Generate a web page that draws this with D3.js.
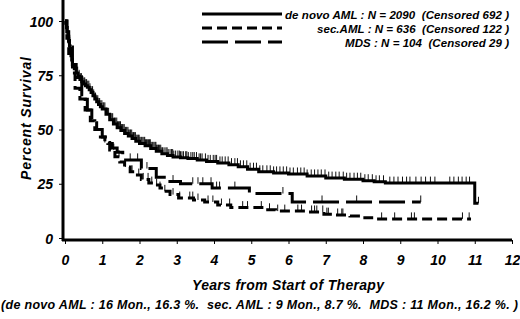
<!DOCTYPE html>
<html>
<head>
<meta charset="utf-8">
<script src="https://cdn.jsdelivr.net/npm/d3@7"></script>
<style>
  body { margin: 0; background: #fff; }
  svg text { font-family: "Liberation Sans", Arial, sans-serif; font-weight: bold; font-style: italic; fill: #000; white-space: pre; }
</style>
</head>
<body>
<svg class="km" width="520" height="319"></svg>
<script>

// survival curves (years, percent)
let deNovoTime = [0, 0.02, 0.04, 0.06, 0.08, 0.1, 0.12, 0.14, 0.16, 0.18, 0.2, 0.25, 0.3, 0.35, 0.4, 0.45, 0.5, 0.55, 0.6, 0.65, 0.7, 0.75, 0.8, 0.85, 0.9, 0.95, 1.0, 1.1, 1.2, 1.3, 1.4, 1.5, 1.6, 1.7, 1.8, 1.9, 2.0, 2.15, 2.3, 2.45, 2.6, 2.75, 2.9, 3.1, 3.3, 3.55, 3.8, 4.1, 4.4, 4.65, 4.9, 5.2, 5.6, 6.0, 6.5, 7.0, 7.5, 8.0, 8.3, 8.6, 11.0, 11.1];
let deNovoSurv = [100, 99, 97, 95, 93, 91, 88.5, 86, 84, 82, 80, 78, 76, 74.5, 73, 72, 71, 70.2, 69.5, 68.3, 67, 65.5, 64, 62.8, 61.5, 60.5, 59.5, 57, 54.5, 52.5, 50.8, 49.5, 48.2, 47, 45.8, 44.6, 43.6, 42.5, 41.3, 40, 38.8, 38, 37.3, 37, 36.6, 36, 35.3, 34.6, 33.8, 32.8, 31.7, 30.5, 30, 29.5, 28.6, 27.6, 27.1, 26.4, 25.9, 25.3, 16, 16];

let mdsTime = [0, 0.05, 0.1, 0.2, 0.3, 0.45, 0.6, 0.72, 0.85, 1.0, 1.15, 1.27, 1.4, 1.55, 2.05, 2.45, 2.75, 3.1, 3.95, 4.95, 6.1, 9.55];
let mdsSurv = [100, 95, 88, 80, 74, 66, 59, 54, 50, 46.5, 43.5, 41.5, 39.5, 36, 32, 28, 26, 25, 23, 20.5, 16.6, 16.6];

let secTime = [0, 0.05, 0.1, 0.2, 0.27, 0.4, 0.54, 0.68, 0.8, 0.95, 1.07, 1.2, 1.34, 1.47, 1.6, 1.75, 1.88, 2.05, 2.25, 2.4, 2.55, 2.65, 2.82, 3.05, 3.45, 3.75, 4.1, 4.45, 5.35, 5.65, 6.55, 6.95, 7.25, 7.65, 8.05, 8.35, 10.9];
let secSurv = [100, 92, 85, 76, 69, 64, 59, 54, 50, 46.5, 44, 40.5, 37.5, 35, 32.7, 30.5, 29, 27, 25.3, 24.4, 23, 21.5, 20, 18.4, 17.5, 16.6, 15.2, 14, 13, 12.4, 12, 11, 10.6, 10.1, 9.3, 8.8, 8.8];

// censoring marks (years)
let deNovoCens = [0.34, 0.38, 0.41, 0.44, 0.47, 0.51, 0.53, 0.56, 0.58, 0.61, 0.64, 0.67, 0.7, 0.74, 0.77, 0.8, 0.82, 0.85, 0.88, 0.91, 0.93, 0.96, 0.99, 1.02, 1.04, 1.07, 1.1, 1.12, 1.14, 1.17, 1.2, 1.23, 1.26, 1.28, 1.31, 1.33, 1.36, 1.39, 1.41, 1.44, 1.46, 1.49, 1.52, 1.54, 1.56, 1.59, 1.62, 1.64, 1.66, 1.69, 1.71, 1.74, 1.76, 1.79, 1.82, 1.84, 1.86, 1.89, 1.91, 1.94, 1.97, 1.99, 2.01, 2.04, 2.06, 2.09, 2.12, 2.14, 2.16, 2.19, 2.21, 2.24, 2.27, 2.29, 2.31, 2.34, 2.36, 2.39, 2.42, 2.44, 2.46, 2.49, 2.51, 2.54, 2.57, 2.6, 2.62, 2.66, 2.71, 2.74, 2.77, 2.82, 2.86, 2.89, 2.92, 2.97, 3.03, 3.07, 3.1, 3.14, 3.18, 3.24, 3.27, 3.31, 3.38, 3.43, 3.47, 3.53, 3.6, 3.64, 3.68, 3.77, 3.84, 3.9, 3.98, 4.03, 4.07, 4.16, 4.22, 4.3, 4.38, 4.47, 4.56, 4.63, 4.71, 4.79, 4.88, 4.97, 5.06, 5.14, 5.23, 5.31, 5.42, 5.51, 5.6, 5.68, 5.77, 5.86, 5.95, 6.04, 6.13, 6.24, 6.33, 6.42, 6.5, 6.61, 6.7, 6.79, 6.88, 6.98, 7.08, 7.17, 7.27, 7.36, 7.47, 7.56, 7.65, 7.76, 7.85, 7.94, 8.05, 8.14, 8.25, 8.35, 8.44, 8.55, 8.72, 8.83, 8.94, 9.06, 9.17, 9.26, 9.42, 9.56, 9.68, 9.81, 9.93, 10.33, 10.44, 10.56, 10.66, 10.77, 10.86, 11.1];
let mdsCens = [1.75, 1.95, 2.2, 2.45, 2.9, 3.43, 3.57, 3.7, 3.92, 4.07, 4.15, 4.56, 5.85, 6.9, 7.83, 9.55];
let secCens = [1.07, 1.31, 1.45, 1.62, 1.8, 1.98, 2.1, 2.23, 2.33, 2.46, 2.55, 2.68, 2.9, 3.08, 3.35, 3.43, 3.57, 3.84, 3.97, 4.2, 4.42, 4.77, 4.9, 5.27, 5.49, 5.71, 5.9, 6.25, 6.35, 6.62, 6.7, 6.76, 6.92, 7.03, 7.07, 7.32, 7.43, 7.46, 8.5, 8.85, 9.3, 9.38, 10.67, 10.85];

let yearTicks = [0, 1, 2, 3, 4, 5, 6, 7, 8, 9, 10, 11, 12];
let percentTicks = [0, 25, 50, 75, 100];

let legendLabels = [
  "de novo AML : N = 2090  (Censored 692 )",
  "sec.AML : N = 636  (Censored 122 )",
  "MDS : N = 104  (Censored 29 )"
];
let footnote = "(de novo AML : 16 Mon., 16.3 %.  sec. AML : 9 Mon., 8.7 %.  MDS : 11 Mon., 16.2 %. )";

let drawKaplanMeier = function()
{
  let svg = d3.select("body").select(".km");

  let x = d3.scaleLinear().domain([0, 12]).range([65, 512]);
  let y = d3.scaleLinear().domain([0, 100]).range([238, 21]);

  let series = [
    { time: deNovoTime, surv: deNovoSurv, cens: deNovoCens, dash: null, text: legendLabels[0], tw: 224 },
    { time: secTime, surv: secSurv, cens: secCens, dash: "10,5", text: legendLabels[1], tw: 192 },
    { time: mdsTime, surv: mdsSurv, cens: mdsCens, dash: "26,7", text: legendLabels[2], tw: 164 }
  ];

  // step lookup for the censor ticks
  let survAt = function(s, t) {
    let i = d3.bisectRight(s.time, t) - 1;
    return s.surv[Math.max(0, i)];
  };

  let line = d3.line()
    .x(d => x(d[0]))
    .y(d => y(d[1]))
    .curve(d3.curveStepAfter);

  let plot = svg.append("g").attr("id", "plot");

  // censor marks first, curves on top
  series.forEach(function(s) {
    plot.append("g")
      .selectAll("line")
      .data(s.cens)
      .join("line")
        .attr("x1", d => x(d))
        .attr("x2", d => x(d))
        .attr("y1", d => y(survAt(s, d)))
        .attr("y2", d => y(survAt(s, d)) - 6.5)
        .attr("stroke", "#111")
        .attr("stroke-width", 1);
  });

  plot.selectAll("path.curve")
    .data(series)
    .join("path")
      .attr("class", "curve")
      .attr("fill", "none")
      .attr("stroke", "#000")
      .attr("stroke-width", 3)
      .attr("stroke-dasharray", d => d.dash)
      .attr("d", d => line(d.time.map((t, i) => [t, d.surv[i]])));

  // axes
  let xAxis = d3.axisBottom(x).tickValues(yearTicks).tickSize(4).tickSizeOuter(0);
  let yAxis = d3.axisLeft(y).tickValues(percentTicks).tickSize(4).tickSizeOuter(0);

  let xGroup = svg.append("g").attr("id", "x-axis").attr("transform", translate(0, 240)).call(xAxis);
  xGroup.select(".domain").remove();
  xGroup.selectAll(".tick line").attr("stroke", "#000").attr("stroke-width", 1);
  xGroup.selectAll(".tick text")
    .attr("y", 25).attr("dy", null)
    .style("font-size", "14px")
    .attr("fill", "#000");
  xGroup.append("line")
    .attr("x1", 62).attr("x2", 512)
    .attr("y1", 0).attr("y2", 0)
    .attr("stroke", "#000").attr("stroke-width", 3);

  let yGroup = svg.append("g").attr("id", "y-axis").attr("transform", translate(63, 0)).call(yAxis);
  yGroup.select(".domain").remove();
  yGroup.selectAll(".tick line").attr("stroke", "#000").attr("stroke-width", 1);
  yGroup.selectAll(".tick text")
    .attr("x", -10).attr("dy", "0.36em")
    .style("font-size", "14px")
    .attr("fill", "#000");
  yGroup.append("line")
    .attr("x1", 0).attr("x2", 0)
    .attr("y1", 0).attr("y2", 241)
    .attr("stroke", "#000").attr("stroke-width", 3);

  // legend
  let legend = svg.append("g").attr("id", "legend");
  legend.selectAll("line")
    .data(series)
    .join("line")
      .attr("x1", 202).attr("x2", 282)
      .attr("y1", (d, i) => 14 + i * 14)
      .attr("y2", (d, i) => 14 + i * 14)
      .attr("stroke", "#000")
      .attr("stroke-width", 3)
      .attr("stroke-dasharray", d => d.dash);
  legend.selectAll("text")
    .data(series)
    .join("text")
      .attr("x", 509)
      .attr("y", (d, i) => 18.5 + i * 14)
      .attr("text-anchor", "end")
      .attr("textLength", d => d.tw)
      .attr("lengthAdjust", "spacing")
      .style("font-size", "11.5px")
      .text(d => d.text);

  // axis labels
  svg.append("text")
    .attr("x", 192).attr("y", 290)
    .attr("textLength", 192)
    .attr("lengthAdjust", "spacing")
    .style("font-size", "14px")
    .text("Years from Start of Therapy");

  svg.append("text")
    .attr("transform", translate(31, 180) + " rotate(-90)")
    .attr("textLength", 123)
    .attr("lengthAdjust", "spacing")
    .style("font-size", "14px")
    .text("Percent Survival");

  svg.append("text")
    .attr("x", 1).attr("y", 309)
    .attr("textLength", 517)
    .attr("lengthAdjust", "spacing")
    .style("font-size", "12.5px")
    .text(footnote);
};

function translate(x, y) {
  return 'translate(' + x + ',' + y + ')';
}

drawKaplanMeier();
</script>
</body>
</html>
